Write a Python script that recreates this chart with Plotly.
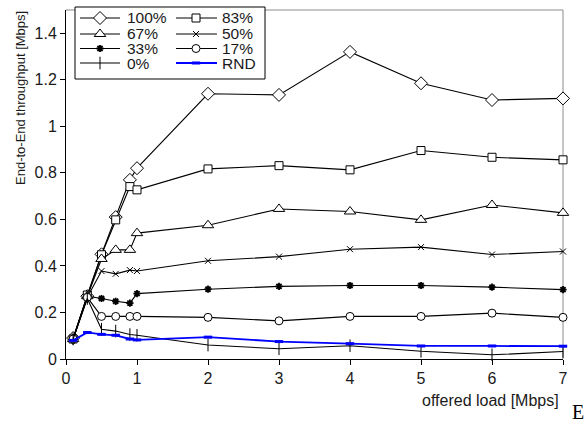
import plotly.graph_objects as go

# ---- data ----
offered_load = [0.1, 0.3, 0.5, 0.7, 0.9, 1, 2, 3, 4, 5, 6, 7]
p100 = [0.09, 0.27, 0.45, 0.61, 0.77, 0.82, 1.14, 1.135, 1.32, 1.185, 1.113, 1.12]
p83 = [0.086, 0.275, 0.448, 0.598, 0.741, 0.727, 0.817, 0.831, 0.813, 0.896, 0.867, 0.856]
p67 = [0.086, 0.27, 0.43, 0.469, 0.469, 0.541, 0.575, 0.645, 0.634, 0.598, 0.662, 0.628]
p50 = [0.086, 0.265, 0.378, 0.366, 0.382, 0.378, 0.422, 0.44, 0.472, 0.481, 0.449, 0.462]
p33 = [0.086, 0.27, 0.26, 0.248, 0.24, 0.281, 0.30, 0.312, 0.316, 0.316, 0.309, 0.298]
p17 = [0.086, 0.265, 0.183, 0.183, 0.183, 0.183, 0.179, 0.164, 0.183, 0.183, 0.197, 0.179]
p0 = [0.086, 0.26, 0.128, 0.12, 0.105, 0.102, 0.06, 0.044, 0.057, 0.033, 0.018, 0.032]
rnd = [0.08, 0.114, 0.106, 0.102, 0.086, 0.082, 0.094, 0.075, 0.066, 0.056, 0.056, 0.055]

series_names = ["100%", "83%", "67%", "50%", "33%", "17%", "0%", "RND"]
series_values = [p100, p83, p67, p50, p33, p17, p0, rnd]
x_ticks = [0, 1, 2, 3, 4, 5, 6, 7]
y_ticks = [0, 0.2, 0.4, 0.6, 0.8, 1.0, 1.2, 1.4]
y_tick_text = ["0", "0.2", "0.4", "0.6", "0.8", "1", "1.2", "1.4"]

FONT = "Liberation Sans, Arial, sans-serif"
BLK = "#000000"
TXT = "#1a1a1a"
BLUE = "#0000ff"

styles = {
    "100%": dict(symbol="diamond", size=10, color="white", line=dict(color=BLK, width=1)),
    "83%": dict(symbol="square", size=8, color="white", line=dict(color=BLK, width=1)),
    "67%": dict(symbol="triangle-up", size=10, color="white", line=dict(color=BLK, width=1)),
    "50%": dict(symbol="x-thin", size=6, color=BLK, line=dict(color=BLK, width=1)),
    "33%": dict(symbol="asterisk", size=6, color=BLK, line=dict(color=BLK, width=1.8)),
    "17%": dict(symbol="circle", size=8, color="white", line=dict(color=BLK, width=1)),
    "0%": dict(symbol="line-ns", size=9, color=BLK, line=dict(color=BLK, width=1)),
    "RND": dict(symbol="line-ew", size=6, color=BLUE, line=dict(color=BLUE, width=3)),
}
line_styles = {n: dict(color=BLK, width=1.1) for n in series_names}
line_styles["RND"] = dict(color=BLUE, width=1.8)

fig = go.Figure()
for name, vals in zip(series_names, series_values):
    fig.add_trace(go.Scatter(
        x=offered_load, y=vals, mode="lines+markers", name=name,
        line=line_styles[name], marker=styles[name], showlegend=False,
        cliponaxis=False,
    ))

# ---- plot geometry (pixels) ----
W, H = 588, 426
L, R, T, B = 66, 25, 10, 67
pw, ph = W - L - R, H - T - B


def px(xp):
    return (xp - L) / pw


def py(yp):
    return (H - B - yp) / ph


shapes = []
# grey top and right borders
shapes.append(dict(type="line", xref="paper", yref="paper", x0=0, x1=1, y0=1, y1=1,
                   line=dict(color="#8c8c8c", width=1), layer="below"))
shapes.append(dict(type="line", xref="paper", yref="paper", x0=1, x1=1, y0=0, y1=1,
                   line=dict(color="#8c8c8c", width=1), layer="below"))
# legend box
shapes.append(dict(type="rect", xref="paper", yref="paper",
                   x0=px(75), x1=px(265), y0=py(79), y1=py(7),
                   line=dict(color=BLK, width=1), fillcolor="white", layer="below"))

annotations = []
# legend entries (two columns, row-major)
col_x = [(80, 120, 100, 125), (176, 217, 196, 220)]
row_y = [18, 34, 48.5, 63]
for i, name in enumerate(series_names):
    c, r = i % 2, i // 2
    x0, x1, xm, xt = col_x[c]
    yy = row_y[r]
    fig.add_trace(go.Scatter(
        x=[x0, x1], y=[yy, yy], mode="lines", line=line_styles[name],
        xaxis="x2", yaxis="y2", showlegend=False, hoverinfo="skip", cliponaxis=False))
    fig.add_trace(go.Scatter(
        x=[xm], y=[yy], mode="markers", marker=styles[name],
        xaxis="x2", yaxis="y2", showlegend=False, hoverinfo="skip", cliponaxis=False))
    annotations.append(dict(xref="paper", yref="paper", x=px(xt), y=py(yy),
                            text=name, showarrow=False, xanchor="left", yanchor="middle",
                            font=dict(family=FONT, size=15.5, color=TXT)))

# axis titles
annotations.append(dict(xref="paper", yref="paper", x=px(561), y=py(400),
                        text="offered load [Mbps]", showarrow=False,
                        xanchor="right", yanchor="middle",
                        font=dict(family=FONT, size=16, color=TXT)))
annotations.append(dict(xref="paper", yref="paper", x=px(20), y=py(98),
                        text="End-to-End throughput [Mbps]", showarrow=False,
                        textangle=-90, xanchor="center", yanchor="middle",
                        font=dict(family=FONT, size=13, color=TXT)))
annotations.append(dict(xref="paper", yref="paper", x=px(578), y=py(412),
                        text="E", showarrow=False, xanchor="center", yanchor="middle",
                        font=dict(family="Liberation Serif, Times New Roman, serif", size=20, color=BLK)))

fig.update_layout(
    width=W, height=H,
    margin=dict(l=L, r=R, t=T, b=B, pad=0),
    paper_bgcolor="white", plot_bgcolor="white",
    shapes=shapes, annotations=annotations,
    font=dict(family=FONT, size=16, color=TXT),
    xaxis=dict(range=[0, 7], tickvals=x_ticks, ticktext=[str(v) for v in x_ticks],
               showgrid=False, zeroline=False, showline=True, linecolor=BLK, linewidth=1,
               ticks="outside", ticklen=5, tickcolor=BLK,
               tickfont=dict(size=16, family=FONT, color=TXT)),
    yaxis=dict(range=[0, 1.5], tickvals=y_ticks, ticktext=y_tick_text,
               showgrid=False, zeroline=False, showline=True, linecolor=BLK, linewidth=1,
               ticks="outside", ticklen=5, tickcolor=BLK,
               tickfont=dict(size=16, family=FONT, color=TXT)),
    xaxis2=dict(range=[L, W - R], overlaying="x", anchor="y2", visible=False, fixedrange=True),
    yaxis2=dict(range=[H - B, T], overlaying="y", anchor="x2", visible=False, fixedrange=True),
)

fig.write_html("out.html")
